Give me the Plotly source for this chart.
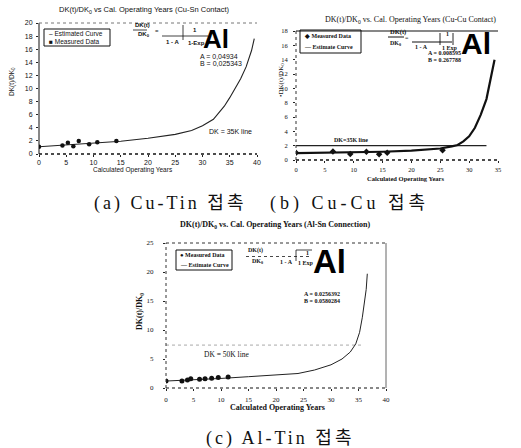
import plotly.graph_objects as go

W, H = 521, 448

# ---------------- data ----------------
# (a) Cu-Sn contact
a_meas_x = [0, 4.3, 5.3, 6.3, 7.3, 9.2, 10.7, 14.2]
a_meas_y = [1.1, 1.3, 1.7, 1.2, 2.0, 1.5, 1.8, 2.0]
a_curve_x = [0, 5, 10, 15, 20, 25, 28, 30, 32, 34, 35, 36, 37, 38, 39, 39.5]
a_curve_y = [1.1, 1.35, 1.6, 1.95, 2.4, 3.0, 3.6, 4.3, 5.3, 7.3, 8.6, 10.0, 11.5, 13.3, 15.8, 17.6]
a_xticks = [0, 5, 10, 15, 20, 25, 30, 35, 40]
a_yticks = [0, 2, 4, 6, 8, 10, 12, 14, 16, 18, 20]

# (b) Cu-Cu contact
b_meas_x = [0, 6.4, 9.4, 12.2, 14.4, 15.8, 25.4]
b_meas_y = [1.0, 1.2, 0.85, 1.15, 0.8, 1.0, 1.35]
b_curve_x = [0, 5, 10, 15, 20, 25, 27, 28, 29, 30, 31, 32, 33, 33.5, 34, 34.4]
b_curve_y = [0.95, 1.0, 1.05, 1.15, 1.3, 1.6, 1.9, 2.1, 2.6, 3.3, 4.5, 6.3, 8.5, 10.5, 12.5, 14.0]
b_dk_x = [0, 33]
b_dk_y = [2, 2]
b_xticks = [0, 5, 10, 15, 20, 25, 30, 35]
b_yticks = [0, 2, 4, 6, 8, 10, 12, 14, 16, 18]

# (c) Al-Sn connection
c_meas_x = [0, 2.9, 3.9, 4.5, 6.1, 7.1, 8.3, 9.5, 11.3]
c_meas_y = [1.2, 1.2, 1.4, 1.6, 1.5, 1.6, 1.7, 1.8, 1.9]
c_curve_x = [0, 5, 10, 15, 20, 24, 27, 30, 32, 33.5, 34.5, 35.2, 35.7, 36.1, 36.4, 36.6]
c_curve_y = [1.2, 1.4, 1.65, 1.95, 2.2, 2.5, 3.1, 4.0, 5.0, 6.2, 7.6, 9.6, 12.2, 14.8, 17.0, 19.7]
c_dk_x = [0, 35.7]
c_dk_y = [7.4, 7.4]
c_xticks = [0, 5, 10, 15, 20, 25, 30, 35, 40]
c_yticks = [0, 5, 10, 15, 20, 25]

# ---------------- helpers ----------------
def px(x):
    return x / W

def py(y):
    return 1 - y / H

ARIAL = "Liberation Sans, Arial, sans-serif"
TIMES = "Liberation Serif, Times New Roman, serif"
CAP = "Liberation Serif, Noto Sans CJK KR, serif"

annotations = []
shapes = []

def ann(text, x, y, size, family, color="#111", xanchor="center", yanchor="middle", angle=0):
    annotations.append(dict(text=text, x=px(x), y=py(y), xref="paper", yref="paper",
                            showarrow=False, xanchor=xanchor, yanchor=yanchor,
                            textangle=angle, font=dict(size=size, family=family, color=color)))

def pline(x0, y0, x1, y1, width=1, color="#111", dash="solid"):
    shapes.append(dict(type="line", xref="paper", yref="paper",
                       x0=px(x0), y0=py(y0), x1=px(x1), y1=py(y1),
                       line=dict(width=width, color=color, dash=dash)))

def prect(x0, y0, x1, y1, width=1, color="#111"):
    shapes.append(dict(type="rect", xref="paper", yref="paper",
                       x0=px(x0), y0=py(y0), x1=px(x1), y1=py(y1),
                       line=dict(width=width, color=color), fillcolor="rgba(0,0,0,0)"))

def border(ax, side, width=1, color="#111", dash="solid"):
    xr, yr = ax + " domain", ax.replace("x", "y") + " domain"
    d = dict(top=(0, 1, 1, 1), bottom=(0, 0, 1, 0), left=(0, 0, 0, 1), right=(1, 0, 1, 1))[side]
    shapes.append(dict(type="line", xref=xr, yref=yr, x0=d[0], y0=d[1], x1=d[2], y1=d[3],
                       line=dict(width=width, color=color, dash=dash)))

fig = go.Figure()

# (a)
fig.add_trace(go.Scatter(x=a_curve_x, y=a_curve_y, mode="lines", xaxis="x", yaxis="y",
                         line=dict(color="#222", width=1.1)))
fig.add_trace(go.Scatter(x=a_meas_x, y=a_meas_y, mode="markers", xaxis="x", yaxis="y",
                         marker=dict(color="#111", size=4.5, symbol="circle")))
# (b)
fig.add_trace(go.Scatter(x=b_dk_x, y=b_dk_y, mode="lines", xaxis="x2", yaxis="y2",
                         line=dict(color="#222", width=1.1)))
fig.add_trace(go.Scatter(x=b_curve_x, y=b_curve_y, mode="lines", xaxis="x2", yaxis="y2",
                         line=dict(color="#111", width=2.2)))
fig.add_trace(go.Scatter(x=b_meas_x, y=b_meas_y, mode="markers", xaxis="x2", yaxis="y2",
                         marker=dict(color="#111", size=5, symbol="diamond")))
# (c)
fig.add_trace(go.Scatter(x=c_dk_x, y=c_dk_y, mode="lines", xaxis="x3", yaxis="y3",
                         line=dict(color="#aaa", width=1, dash="dot")))
fig.add_trace(go.Scatter(x=c_curve_x, y=c_curve_y, mode="lines", xaxis="x3", yaxis="y3",
                         line=dict(color="#222", width=1)))
fig.add_trace(go.Scatter(x=c_meas_x, y=c_meas_y, mode="markers", xaxis="x3", yaxis="y3",
                         marker=dict(color="#111", size=5, symbol="circle")))

def axstyle(domain, rng, ticks, anchor, family, size, standoff=2):
    return dict(domain=domain, range=rng, tickvals=ticks, anchor=anchor,
                showgrid=False, zeroline=False, showline=False,
                ticks="outside", ticklen=2, tickwidth=1, tickcolor="#222",
                ticklabelstandoff=standoff,
                tickfont=dict(size=size, family=family, color="#111"))

fig.update_layout(
    template="none",
    width=W, height=H, margin=dict(l=0, r=0, t=0, b=0),
    paper_bgcolor="white", plot_bgcolor="white", showlegend=False,
    font=dict(color="#111"),
    xaxis=axstyle([px(39), px(257)], [0, 40], a_xticks, "y", ARIAL, 7, 0),
    yaxis=axstyle([py(154), py(23)], [0, 20], a_yticks, "x", ARIAL, 7, 2),
    xaxis2=axstyle([px(296), px(498)], [0, 35], b_xticks, "y2", TIMES, 6.5, 1),
    yaxis2=axstyle([py(160), py(31)], [0, 18], b_yticks, "x2", TIMES, 6.5, 4),
    xaxis3=axstyle([px(166), px(386)], [0, 40], c_xticks, "y3", TIMES, 7, 3),
    yaxis3=axstyle([py(388), py(243)], [0, 25], c_yticks, "x3", TIMES, 7, 8),
)

# borders
border("x", "left", 1, "#111")
border("x", "bottom", 1.3, "#111", "dot")
border("x", "top", 1, "#777", "dot")
border("x2", "top", 1.2, "#111")
border("x2", "left", 1, "#333", "dot")
border("x2", "bottom", 1.3, "#111", "dot")
border("x3", "top", 1, "#333", "dot")
border("x3", "left", 1, "#333", "dot")
border("x3", "bottom", 1.2, "#111", "dot")
border("x3", "right", 1, "#666")

# ---------- (a) texts ----------
ann("DK(t)/DK<sub>0</sub> vs Cal. Operating Years (Cu-Sn Contact)", 144, 10, 7.5, ARIAL)
ann("Calculated Operating Years", 133, 170, 6.5, ARIAL)
ann("DK(t)/DK<sub>0</sub>", 12, 82, 6.5, ARIAL, angle=-90)
prect(44, 29, 110, 46, 1)
ann("– Estimated Curve", 47, 33.5, 6.5, ARIAL, xanchor="left")
ann("■ Measured Data", 47, 41.5, 6.5, ARIAL, xanchor="left")
ann("<b>DK(t)</b>", 133, 25, 6, ARIAL, xanchor="left")
pline(133, 30, 147, 30, 0.8)
ann("<b>DK<sub>0</sub></b>", 136, 34.5, 6, ARIAL, xanchor="left")
ann("=", 157, 31, 6, ARIAL)
pline(162, 36, 208, 36, 0.8)
ann("<b>1 - A</b>", 164, 41.5, 6, ARIAL, xanchor="left")
pline(183, 25, 183, 40, 0.8)
ann("<b>1</b>", 195, 30, 6, ARIAL)
ann("<b>1-Exp</b>", 186, 43, 6, ARIAL, xanchor="left")
ann("<b>Al</b>", 216, 39, 26, ARIAL, color="#000")
ann("A = 0,04934", 198, 57, 7, ARIAL, xanchor="left")
ann("B = 0,025343", 198, 64, 7, ARIAL, xanchor="left")
ann("DK = 35K line", 207, 131, 7, ARIAL, xanchor="left")

# ---------- (b) texts ----------
ann("DK(t)/DK<sub>0</sub> vs. Cal. Operating Years (Cu-Cu Contact)", 410, 20, 8, TIMES)
ann("<b>Calculated Operating Years</b>", 405, 178, 6.5, TIMES)
ann("•DK(t)/DK<sub>0</sub>", 281, 80, 7, TIMES, angle=-90)
prect(300, 30, 361, 53, 1)
ann("<b>◆ Measured Data</b>", 302, 36, 6, TIMES, xanchor="left")
ann("<b>— Estimate Curve</b>", 302, 47, 6, TIMES, xanchor="left")
ann("<b>DK(t)</b>", 388, 32, 6.5, TIMES, xanchor="left")
pline(388, 37, 404, 37, 1)
ann("<b>DK<sub>0</sub></b>", 388, 43, 6, TIMES, xanchor="left")
ann("=", 407, 38, 6, TIMES)
pline(412, 42, 452, 42, 1)
ann("<b>1 - A</b>", 413, 47, 6, TIMES, xanchor="left")
pline(440, 33, 440, 45, 0.9)
pline(453, 33, 453, 45, 0.9)
ann("<b>1</b>", 447, 34, 6, TIMES)
ann("<b>1 Exp</b>", 440, 48, 6, TIMES, xanchor="left")
ann("<b>Al</b>", 476, 44, 30, ARIAL, color="#000")
ann("<b>A = 0.008595</b>", 426, 53, 6, TIMES, xanchor="left")
ann("<b>B = 0.267788</b>", 426, 59.5, 6, TIMES, xanchor="left")
ann("<b>DK=35K line</b>", 332, 140, 6, TIMES, xanchor="left")

# ---------- (c) texts ----------
ann("<b>DK(t)/DK<sub>0</sub> vs. Cal. Operating Years (Al-Sn Connection)</b>", 275, 225, 8, TIMES)
ann("<b>Calculated Operating Years</b>", 277, 407, 8, TIMES)
ann("<b>DK(t)/DK<sub>0</sub></b>", 140, 312, 8, TIMES, angle=-90)
prect(176, 250, 232, 270, 1)
ann("<b>● Measured Data</b>", 178, 255, 6, TIMES, xanchor="left")
ann("<b>— Estimate Curve</b>", 178, 265, 6, TIMES, xanchor="left")
ann("<b>DK(t)</b>", 246, 251, 6, TIMES, xanchor="left")
pline(246, 256.5, 311, 256.5, 0.9, "#333", "dot")
ann("<b>DK<sub>0</sub></b>", 250, 261.5, 6, TIMES, xanchor="left")
ann("<b>1 - A</b>", 278, 261.5, 6, TIMES, xanchor="left")
pline(296, 250, 296, 261, 0.8)
pline(296, 250, 312, 250, 0.8)
ann("<b>1</b>", 307, 253, 6, TIMES)
ann("<b>1 Exp</b>", 296, 262.5, 6, TIMES, xanchor="left")
ann("<b>Al</b>", 329, 261, 33, ARIAL, color="#000")
ann("<b>A = 0.0256392</b>", 302, 294, 6, TIMES, xanchor="left")
ann("<b>B = 0.0580284</b>", 302, 301, 6, TIMES, xanchor="left")
ann("DK = 50K line", 202, 354, 7.5, TIMES, xanchor="left")

# ---------- captions ----------
ann('<span style="letter-spacing:3px">(a) Cu-Tin 접촉</span>', 92, 203, 18, CAP, xanchor="left")
ann('<span style="letter-spacing:4px">(b) Cu-Cu 접촉</span>', 268, 203, 18, CAP, xanchor="left")
ann('<span style="letter-spacing:3px">(c) Al-Tin 접촉</span>', 280, 438, 18, CAP)

fig.update_layout(annotations=annotations, shapes=shapes)
fig.write_html("out.html", config={"displayModeBar": False},
               post_script="document.body.style.margin='0';document.body.style.padding='0';")
